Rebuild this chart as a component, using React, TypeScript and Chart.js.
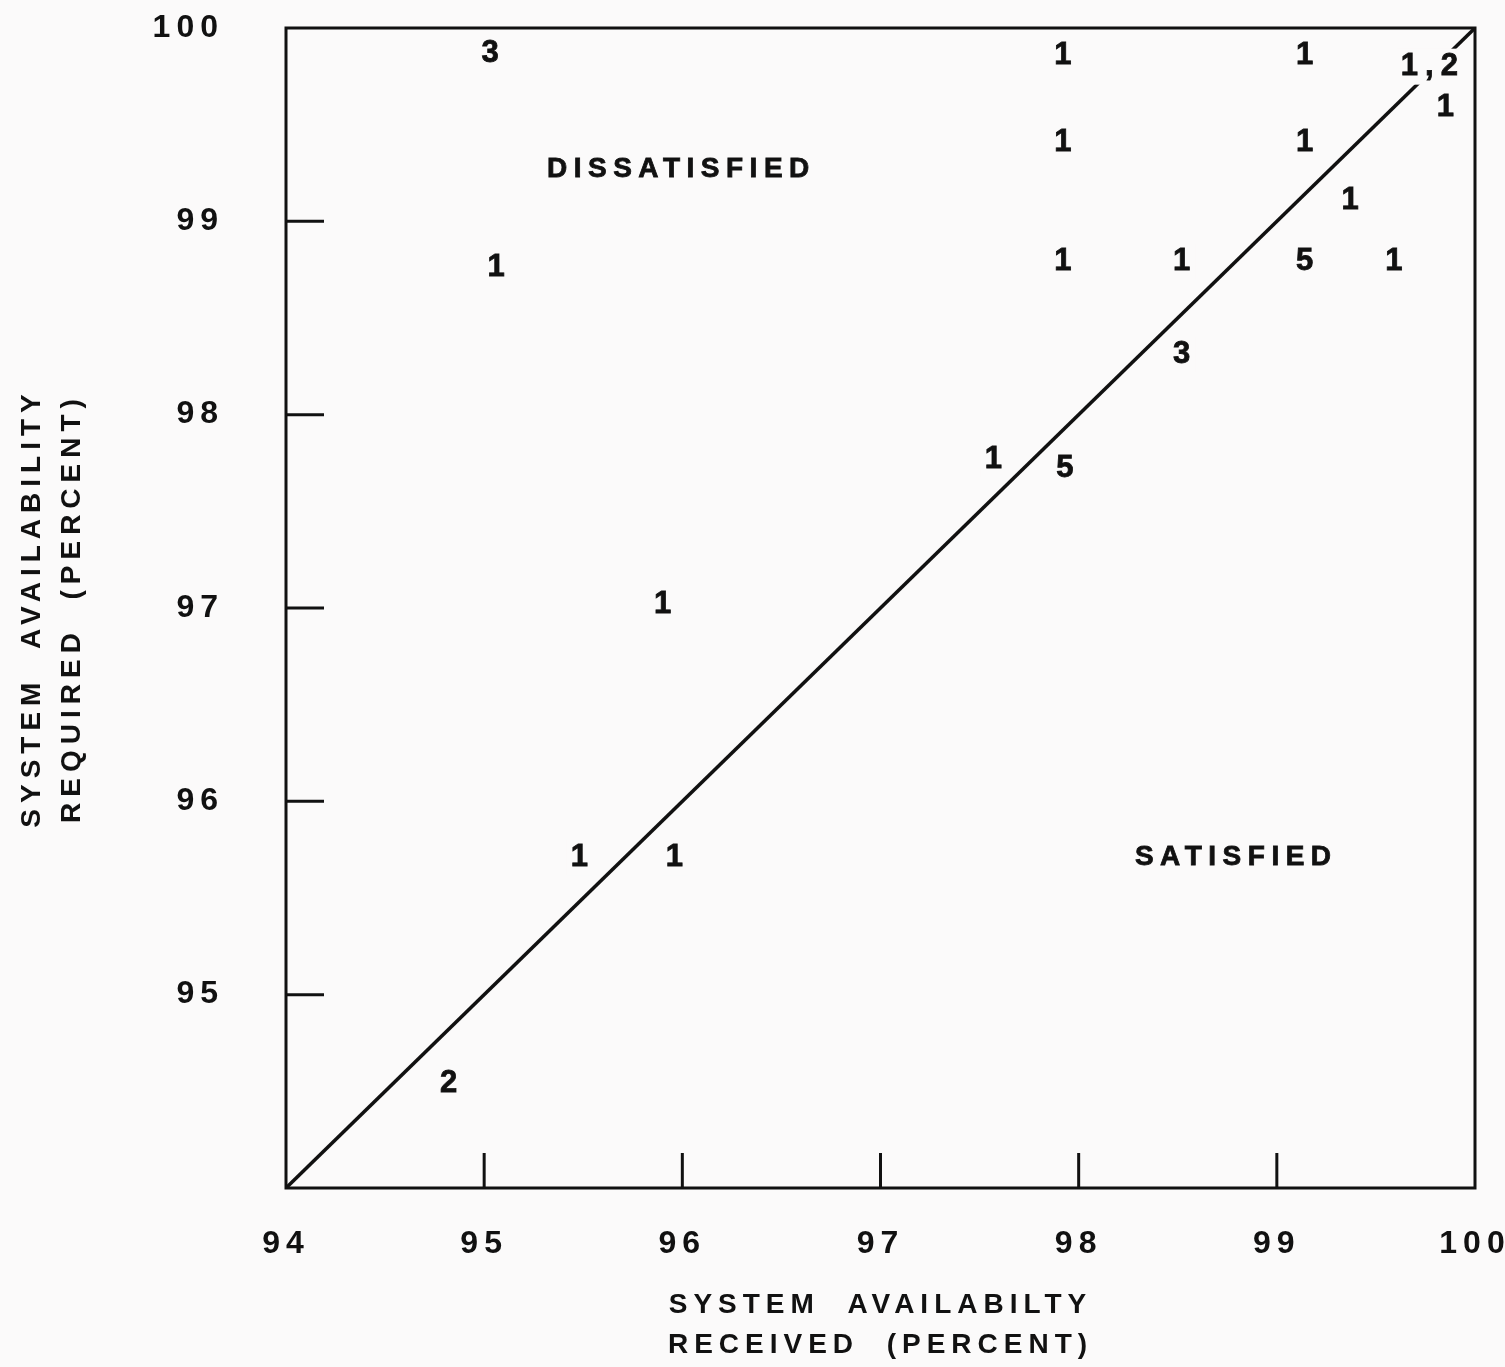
import React, { useEffect, useRef } from 'react';
import { Chart, registerables } from 'chart.js';

Chart.register(...registerables);

// Count labels (number of responses at each point)
const countX = [95.03, 97.92, 99.14, 99.77, 99.85, 97.92, 99.14, 99.37, 95.06, 97.92, 98.52, 99.14, 99.59, 98.52, 97.57, 97.93, 95.9, 95.48, 95.96, 94.82];
const countY = [99.87, 99.86, 99.86, 99.8, 99.59, 99.41, 99.41, 99.11, 98.76, 98.79, 98.79, 98.79, 98.79, 98.31, 97.77, 97.72, 97.02, 95.71, 95.71, 94.54];
const countText = ['3', '1', '1', '1,2', '1', '1', '1', '1', '1', '1', '1', '5', '1', '3', '1', '5', '1', '1', '1', '2'];

// Region labels
const regionX = [95.98, 98.78];
const regionY = [99.27, 95.71];
const regionText = ['DISSATISFIED', 'SATISFIED'];

// Equality line
const diagX = [94, 100];
const diagY = [94, 100];

// Axis
const axisMin = 94;
const axisMax = 100;
const tickMarks = [95, 96, 97, 98, 99];
const hiddenYTick = 94;
const xTitle = ['SYSTEM  AVAILABILTY', 'RECEIVED  (PERCENT)'];
const yTitle = ['SYSTEM  AVAILABILITY', 'REQUIRED  (PERCENT)'];

const INK = '#111111';
const BG = '#fbfafa';
const FONT = '"Liberation Sans", Arial, Helvetica, sans-serif';
const SPACING = '6px';

const drawPlugin = {
  id: 'drawPlugin',
  beforeDraw(chart: any) {
    const ctx = chart.ctx;
    ctx.save();
    ctx.fillStyle = BG;
    ctx.fillRect(0, 0, chart.width, chart.height);
    ctx.restore();
    ctx.letterSpacing = SPACING;
  },
  afterDatasetsDraw(chart: any) {
    const ctx = chart.ctx;
    const { left, right, top, bottom } = chart.chartArea;
    const xs = chart.scales.x;
    const ys = chart.scales.y;
    ctx.save();
    ctx.letterSpacing = '7px';
    // count labels
    const meta = chart.getDatasetMeta(1);
    ctx.font = `bold 31px ${FONT}`;
    ctx.textAlign = 'center';
    ctx.textBaseline = 'middle';
    ctx.lineWidth = 0.8;
    ctx.strokeStyle = INK;
    meta.data.forEach((el: any, i: number) => {
      const t = countText[i];
      const w = ctx.measureText(t).width;
      const cx = el.x + 3.5;
      ctx.fillStyle = BG;
      ctx.fillRect(cx - w / 2 - 4, el.y - 18, w + 2, 36);
      ctx.fillStyle = INK;
      ctx.fillText(t, cx, el.y);
      ctx.strokeText(t, cx, el.y);
    });
    // region labels
    const rmeta = chart.getDatasetMeta(2);
    ctx.font = `bold 28px ${FONT}`;
    ctx.letterSpacing = '6.5px';
    rmeta.data.forEach((el: any, i: number) => {
      ctx.fillStyle = INK;
      ctx.fillText(regionText[i], el.x + 3, el.y);
      ctx.strokeText(regionText[i], el.x + 3, el.y);
    });
    // frame
    ctx.strokeStyle = INK;
    ctx.lineWidth = 3;
    ctx.strokeRect(left, top, right - left, bottom - top);
    // inward tick marks
    tickMarks.forEach((v) => {
      const px = xs.getPixelForValue(v);
      ctx.beginPath();
      ctx.moveTo(px, bottom);
      ctx.lineTo(px, bottom - 35);
      ctx.stroke();
      const py = ys.getPixelForValue(v);
      ctx.beginPath();
      ctx.moveTo(left, py);
      ctx.lineTo(left + 38, py);
      ctx.stroke();
    });
    ctx.restore();
  },
};

function zeroPad(scale: any) {
  scale.paddingLeft = 0;
  scale.paddingRight = 0;
  scale.paddingTop = 0;
  scale.paddingBottom = 0;
}

export default function App() {
  const ref = useRef<HTMLCanvasElement | null>(null);
  useEffect(() => {
    if (!ref.current) return;
    const c2d = ref.current.getContext('2d') as any;
    if (c2d) c2d.letterSpacing = '0px';
    const chart = new Chart(ref.current, {
      type: 'scatter',
      data: {
        datasets: [
          {
            label: 'equal',
            data: diagX.map((x, i) => ({ x, y: diagY[i] })),
            showLine: true,
            borderColor: INK,
            borderWidth: 3.5,
            pointRadius: 0,
            pointHoverRadius: 0,
          },
          {
            label: 'counts',
            data: countX.map((x, i) => ({ x, y: countY[i] })),
            pointRadius: 0,
            pointHoverRadius: 0,
          },
          {
            label: 'regions',
            data: regionX.map((x, i) => ({ x, y: regionY[i] })),
            pointRadius: 0,
            pointHoverRadius: 0,
          },
        ],
      },
      options: {
        responsive: false,
        animation: false,
        events: [],
        layout: { padding: { left: 0, right: 30, top: 28, bottom: 0 } },
        plugins: { legend: { display: false }, tooltip: { enabled: false } },
        scales: {
          x: {
            type: 'linear',
            min: axisMin,
            max: axisMax,
            grid: { display: false, drawTicks: false },
            border: { display: false },
            ticks: {
              stepSize: 1,
              color: INK,
              padding: 37,
              maxRotation: 0,
              font: { family: FONT, size: 32, weight: 'bold' },
            },
            title: {
              display: true,
              text: xTitle,
              color: INK,
              font: { family: FONT, size: 28, weight: 'bold', lineHeight: '40px' },
              padding: { top: 0, bottom: 2 },
            },
            afterFit(scale: any) {
              scale.height = 179;
              zeroPad(scale);
            },
          },
          y: {
            type: 'linear',
            min: axisMin,
            max: axisMax,
            grid: { display: false, drawTicks: false },
            border: { display: false },
            ticks: {
              stepSize: 1,
              color: INK,
              padding: 62,
              font: { family: FONT, size: 32, weight: 'bold' },
              callback: (v: any) => (Number(v) === hiddenYTick ? '' : String(v)),
            },
            title: {
              display: true,
              text: yTitle,
              color: INK,
              font: { family: FONT, size: 28, weight: 'bold', lineHeight: '40px' },
              padding: { top: 12, bottom: 0 },
            },
            afterFit(scale: any) {
              scale.width = 286;
              zeroPad(scale);
            },
          },
        },
      },
      plugins: [drawPlugin],
    } as any);
    return () => chart.destroy();
  }, []);
  return (
    <div style={{ position: 'fixed', left: 0, top: 0, width: 1505, height: 1367, background: BG }}>
      <canvas ref={ref} width={1505} height={1367} style={{ display: 'block' }} />
    </div>
  );
}
